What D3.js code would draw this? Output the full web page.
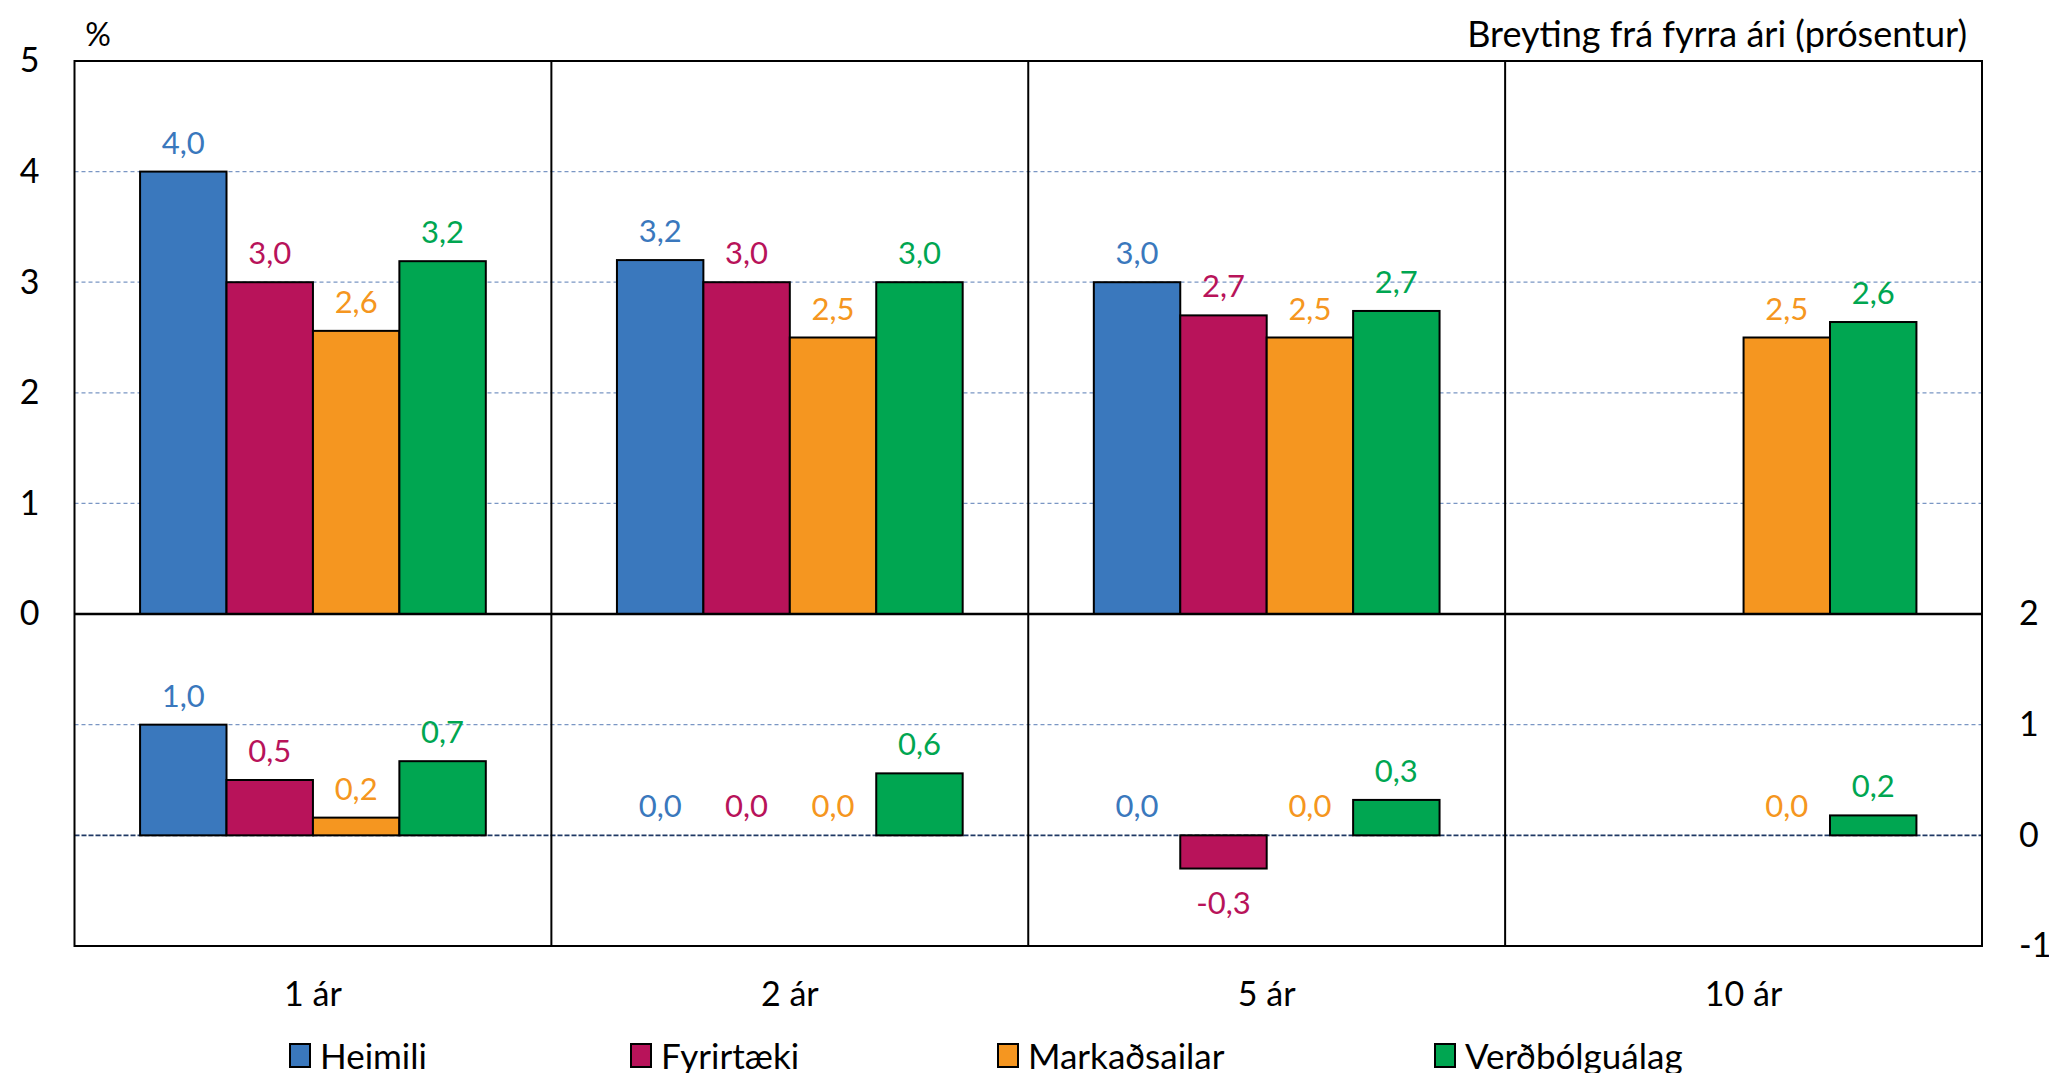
<!DOCTYPE html>
<html>
<head>
<meta charset="utf-8">
<script src="https://cdn.jsdelivr.net/npm/d3@7"></script>
<style>
  body { margin: 0; background: #fff; }
  svg text { font-family: Lato, "Noto Sans", sans-serif; }
</style>
</head>
<body>
<svg id="chart" width="2049" height="1073"></svg>
<script>
// categories and series
var categories = ["1 ár", "2 ár", "5 ár", "10 ár"];
var seriesNames = ["Heimili", "Fyrirtæki", "Markaðsailar", "Verðbólguálag"];

// upper panel: expected inflation (%)
var heimiliLevel = [4.0, 3.2, 3.0, null];
var fyrirtaekiLevel = [3.0, 3.0, 2.7, null];
var markadLevel = [2.56, 2.5, 2.5, 2.5];
var verdbolgaLevel = [3.19, 3.0, 2.74, 2.64];

// lower panel: change from previous year (percentage points)
var heimiliChange = [1.0, 0.0, 0.0, null];
var fyrirtaekiChange = [0.5, 0.0, -0.3, null];
var markadChange = [0.16, 0.0, 0.0, 0.0];
var verdbolgaChange = [0.67, 0.56, 0.32, 0.18];

var upperTicks = [0, 1, 2, 3, 4, 5];
var lowerTicks = [-1, 0, 1, 2];

var colors = ["#3A78BD", "#B8135A", "#F59620", "#00A651"];

LevelChart();

function LevelChart() {
  var svg = d3.select("#chart"),
    MARGINS = { left: 74.5, right: 2049 - 1982, top: 61, mid: 614, bottom: 946 };

  var levels = [heimiliLevel, fyrirtaekiLevel, markadLevel, verdbolgaLevel];
  var changes = [heimiliChange, fyrirtaekiChange, markadChange, verdbolgaChange];

  var x0 = d3.scaleBand()
    .domain(categories)
    .range([MARGINS.left, 2049 - MARGINS.right])
    .paddingInner(0.275)
    .paddingOuter(0.1375);

  var x1 = d3.scaleBand()
    .domain(seriesNames)
    .range([0, x0.bandwidth()]);

  var yTop = d3.scaleLinear().domain([0, 5]).range([MARGINS.mid, MARGINS.top]);
  var yBot = d3.scaleLinear().domain([-1, 2]).range([MARGINS.bottom, MARGINS.mid]);

  var fmt = function (v) { return d3.format(".1f")(v).replace(".", ",").replace("−", "-"); };

  // gridlines
  svg.append("g").selectAll("line")
    .data([1, 2, 3, 4])
    .join("line")
    .attr("x1", MARGINS.left).attr("x2", 2049 - MARGINS.right)
    .attr("y1", function (d) { return yTop(d); })
    .attr("y2", function (d) { return yTop(d); })
    .attr("stroke", "#7A96C4").attr("stroke-width", 1.2)
    .attr("stroke-dasharray", "4,3");

  svg.append("line")
    .attr("x1", MARGINS.left).attr("x2", 2049 - MARGINS.right)
    .attr("y1", yBot(1)).attr("y2", yBot(1))
    .attr("stroke", "#7A96C4").attr("stroke-width", 1.2)
    .attr("stroke-dasharray", "4,3");

  svg.append("line")
    .attr("x1", MARGINS.left).attr("x2", 2049 - MARGINS.right)
    .attr("y1", yBot(0)).attr("y2", yBot(0))
    .attr("stroke", "#1F3864").attr("stroke-width", 1.6)
    .attr("stroke-dasharray", "5,2");

  // bars
  function drawBars(data, y) {
    var flat = [];
    data.forEach(function (vals, s) {
      vals.forEach(function (v, c) {
        if (v !== null) flat.push({ s: s, c: c, v: v });
      });
    });

    svg.append("g").selectAll("rect")
      .data(flat.filter(function (d) { return d.v !== 0; }))
      .join("rect")
      .attr("x", function (d) { return x0(categories[d.c]) + x1(seriesNames[d.s]); })
      .attr("width", x1.bandwidth())
      .attr("y", function (d) { return Math.min(y(d.v), y(0)); })
      .attr("height", function (d) { return Math.abs(y(d.v) - y(0)); })
      .attr("fill", function (d) { return colors[d.s]; })
      .attr("stroke", "#000")
      .attr("stroke-width", 2);

    svg.append("g").selectAll("text")
      .data(flat)
      .join("text")
      .attr("x", function (d) { return x0(categories[d.c]) + x1(seriesNames[d.s]) + x1.bandwidth() / 2; })
      .attr("y", function (d) { return d.v < 0 ? y(d.v) + 33 : y(d.v) - 30; })
      .attr("text-anchor", "middle")
      .attr("dominant-baseline", "central")
      .attr("font-size", 31)
      .attr("fill", function (d) { return colors[d.s]; })
      .text(function (d) { return fmt(d.v); });
  }

  drawBars(levels, yTop);
  drawBars(changes, yBot);

  // panel frames and category dividers
  var plotR = 2049 - MARGINS.right;
  var dividers = categories.slice(1).map(function (c) {
    return x0(c) - x0.step() * x0.paddingInner() / 2;
  });

  svg.append("g").selectAll("line")
    .data(dividers)
    .join("line")
    .attr("x1", function (d) { return d; }).attr("x2", function (d) { return d; })
    .attr("y1", MARGINS.top).attr("y2", MARGINS.bottom)
    .attr("stroke", "#000").attr("stroke-width", 2);

  svg.append("rect")
    .attr("x", MARGINS.left).attr("y", MARGINS.top)
    .attr("width", plotR - MARGINS.left).attr("height", MARGINS.bottom - MARGINS.top)
    .attr("fill", "none").attr("stroke", "#000").attr("stroke-width", 2);

  svg.append("line")
    .attr("x1", MARGINS.left).attr("x2", plotR)
    .attr("y1", MARGINS.mid).attr("y2", MARGINS.mid)
    .attr("stroke", "#000").attr("stroke-width", 2.5);

  // axes
  var leftAxis = svg.append("g")
    .attr("transform", "translate(" + (MARGINS.left - 32) + ",0)")
    .call(d3.axisLeft(yTop).tickValues(upperTicks).tickSize(0).tickFormat(d3.format("d")))
    .call(function (g) { g.select(".domain").remove(); });
  leftAxis.selectAll("text").attr("font-size", 34).attr("fill", "#000")
    .attr("font-family", "Lato, 'Noto Sans', sans-serif");

  var rightAxis = svg.append("g")
    .attr("transform", "translate(" + (plotR + 34) + ",0)")
    .call(d3.axisRight(yBot).tickValues(lowerTicks).tickSize(0).tickFormat(function (d) { return d < 0 ? "-" + Math.abs(d) : d; }))
    .call(function (g) { g.select(".domain").remove(); });
  rightAxis.selectAll("text").attr("font-size", 34).attr("fill", "#000")
    .attr("font-family", "Lato, 'Noto Sans', sans-serif");

  var bottomAxis = svg.append("g")
    .attr("transform", "translate(0," + (MARGINS.bottom + 33) + ")")
    .call(d3.axisBottom(x0).tickSize(0))
    .call(function (g) { g.select(".domain").remove(); });
  bottomAxis.selectAll("text").attr("font-size", 34).attr("fill", "#000")
    .attr("font-family", "Lato, 'Noto Sans', sans-serif");

  // titles
  svg.append("text")
    .attr("x", 98).attr("y", 33)
    .attr("text-anchor", "middle").attr("dominant-baseline", "central")
    .attr("font-size", 32).text("%");

  svg.append("text")
    .attr("x", 1967).attr("y", 33)
    .attr("text-anchor", "end").attr("dominant-baseline", "central")
    .attr("font-size", 36).text("Breyting frá fyrra ári (prósentur)");

  // legend
  var legendX = [290, 631, 998, 1435];
  var legend = svg.append("g").selectAll("g")
    .data(seriesNames)
    .join("g")
    .attr("transform", function (d, i) { return "translate(" + legendX[i] + ",1044)"; });

  legend.append("rect")
    .attr("width", 20).attr("height", 23)
    .attr("fill", function (d, i) { return colors[i]; })
    .attr("stroke", "#000").attr("stroke-width", 2);

  legend.append("text")
    .attr("x", 30).attr("y", 11)
    .attr("dominant-baseline", "central")
    .attr("font-size", 35)
    .text(function (d) { return d; });
}
</script>
</body>
</html>
